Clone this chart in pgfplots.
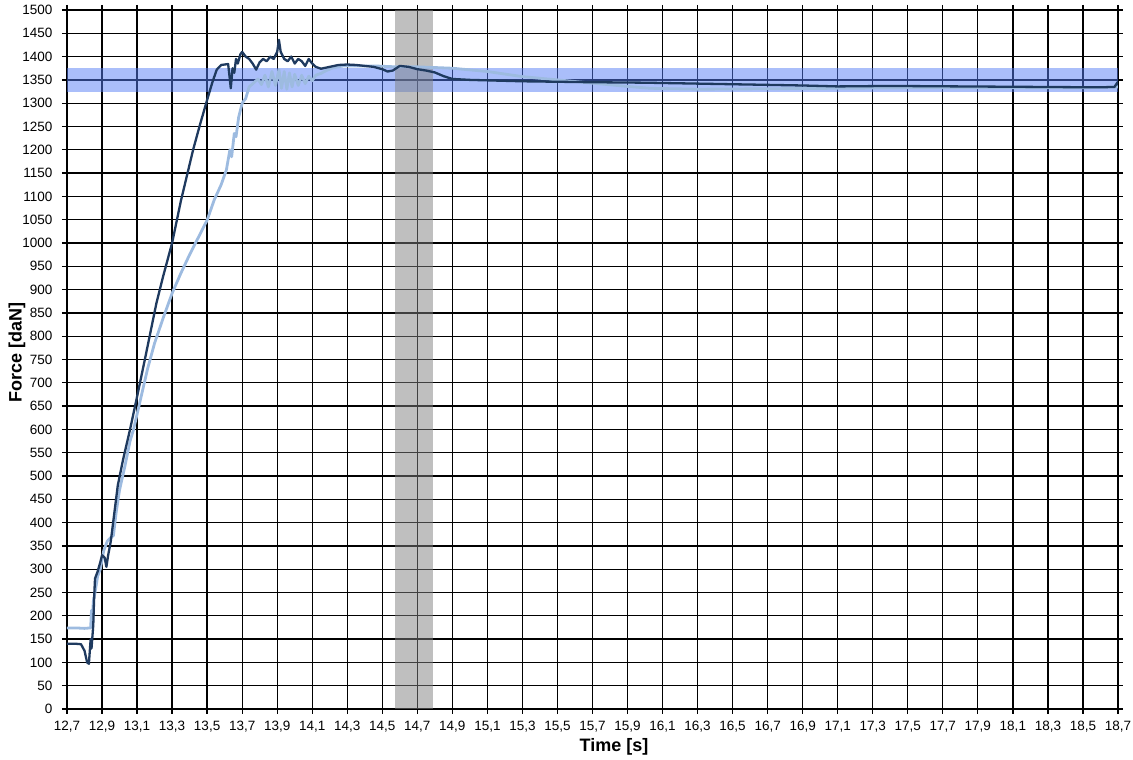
\documentclass[border=0pt]{standalone}
\usepackage{pgfplots}
\pgfplotsset{compat=1.18}
\usepackage{fontspec}
\setmainfont{Liberation Sans}
\definecolor{darkline}{RGB}{31,58,95}
\definecolor{lightline}{RGB}{157,187,224}
\definecolor{bandblue}{RGB}{85,125,245}
\definecolor{bandgray}{RGB}{128,128,128}
\begin{document}
\begin{tikzpicture}
\begin{axis}[
  at={(0,0)}, anchor=south west,
  scale only axis, width=1051pt, height=699pt,
  xmin=12.7, xmax=18.7, ymin=0, ymax=1500,
  xtick={12.7,12.9,13.1,13.3,13.5,13.7,13.9,14.1,14.3,14.5,14.7,14.9,15.1,15.3,15.5,15.7,15.9,16.1,16.3,16.5,16.7,16.9,17.1,17.3,17.5,17.7,17.9,18.1,18.3,18.5,18.7},
  ytick={0,50,...,1500},
  grid=major,
  major grid style={black, line width=1.3pt},
  axis line style={black, line width=1.3pt},
  tick style={black, line width=1.3pt},
  tick align=outside, major tick length=5pt,
  xticklabel style={/pgf/number format/use comma, /pgf/number format/fixed, /pgf/number format/fixed zerofill, /pgf/number format/precision=1, /pgf/number format/assume math mode=true, yshift=-4pt},
  yticklabel style={/pgf/number format/1000 sep={}, /pgf/number format/assume math mode=true, xshift=-6pt},
  tick label style={font=\fontsize{13.5}{16}\selectfont},
  label style={font=\fontsize{18}{21}\selectfont\bfseries},
  xlabel={Time [s]},
  ylabel={Force [daN]},
  xlabel style={at={(axis description cs:0.5205,-0.0544)}, anchor=center},
  ylabel style={at={(axis description cs:-0.0476,0.5107)}, anchor=center},
  clip=true,
]
\addplot[draw=none, fill=bandblue, fill opacity=0.5, forget plot] coordinates {(12.7,1325) (18.7,1325) (18.7,1375) (12.7,1375)} -- cycle;
\addplot[draw=none, fill=bandgray, fill opacity=0.5, forget plot] coordinates {(14.575,0) (14.79,0) (14.79,1500) (14.575,1500)} -- cycle;
\addplot[color=lightline, line width=2.8pt, line join=round] coordinates {
(12.70,174) (12.75,174) (12.80,173) (12.835,174) (12.84,212) (12.845,185) (12.85,230) (12.86,250) (12.875,285) (12.89,300) (12.91,340) (12.93,360) (12.95,368) (12.965,372) (12.98,420) (13.00,470) (13.03,520) (13.06,575) (13.08,600) (13.12,665) (13.16,730) (13.20,785) (13.25,840) (13.30,892) (13.35,935) (13.40,975) (13.45,1012) (13.50,1049) (13.54,1092) (13.58,1125) (13.61,1157) (13.63,1200) (13.64,1185) (13.655,1235) (13.665,1228) (13.68,1270) (13.70,1300) (13.72,1310) (13.74,1335) (13.77,1345) (13.79,1352) (13.81,1340) (13.83,1360) (13.85,1335) (13.87,1368) (13.89,1338) (13.91,1372) (13.925,1332) (13.94,1368) (13.955,1330) (13.97,1365) (13.985,1335) (14.00,1362) (14.02,1338) (14.04,1360) (14.06,1342) (14.08,1358) (14.10,1348) (14.12,1360) (14.15,1364) (14.18,1370) (14.22,1376) (14.28,1380) (14.35,1380) (14.45,1380) (14.58,1378) (14.70,1378) (14.90,1375) (15.10,1368) (15.30,1357) (15.50,1350) (15.70,1343) (15.90,1336) (16.03,1332) (16.30,1330) (16.70,1331) (17.10,1332) (17.50,1333) (18.00,1333) (18.50,1333) (18.70,1335)
};
\addplot[color=darkline, line width=2.3pt, line join=round] coordinates {
(12.70,140) (12.75,140) (12.78,139) (12.80,125) (12.815,100) (12.825,97) (12.835,150) (12.84,130) (12.85,180) (12.855,240) (12.86,280) (12.875,295) (12.89,315) (12.90,330) (12.915,325) (12.925,305) (12.935,330) (12.95,360) (12.97,420) (12.99,480) (13.02,535) (13.06,600) (13.10,670) (13.15,760) (13.21,870) (13.25,930) (13.30,1000) (13.35,1090) (13.42,1200) (13.46,1255) (13.50,1307) (13.53,1345) (13.555,1372) (13.58,1382) (13.62,1384) (13.63,1350) (13.635,1332) (13.645,1375) (13.655,1365) (13.665,1395) (13.675,1385) (13.69,1405) (13.70,1410) (13.72,1400) (13.74,1395) (13.76,1385) (13.78,1372) (13.80,1388) (13.82,1395) (13.84,1390) (13.86,1400) (13.88,1395) (13.90,1410) (13.91,1436) (13.92,1410) (13.94,1395) (13.96,1390) (13.98,1400) (14.00,1385) (14.02,1395) (14.04,1390) (14.06,1380) (14.08,1395) (14.10,1385) (14.12,1378) (14.15,1374) (14.20,1378) (14.25,1382) (14.30,1383) (14.35,1382) (14.40,1380) (14.45,1378) (14.50,1373) (14.53,1368) (14.56,1370) (14.60,1380) (14.65,1378) (14.70,1373) (14.75,1370) (14.80,1366) (14.85,1358) (14.90,1352) (15.00,1350) (15.10,1349) (15.20,1348) (15.30,1347) (15.50,1346) (15.70,1345) (16.00,1344) (16.30,1342) (16.60,1340) (16.90,1338) (17.10,1336) (17.40,1337) (17.80,1336) (18.20,1335) (18.60,1334) (18.68,1335) (18.70,1346)
};
\end{axis}
\pgfresetboundingbox
\path (-67pt,-51pt) rectangle (1066pt,709pt);
\end{tikzpicture}
\end{document}
